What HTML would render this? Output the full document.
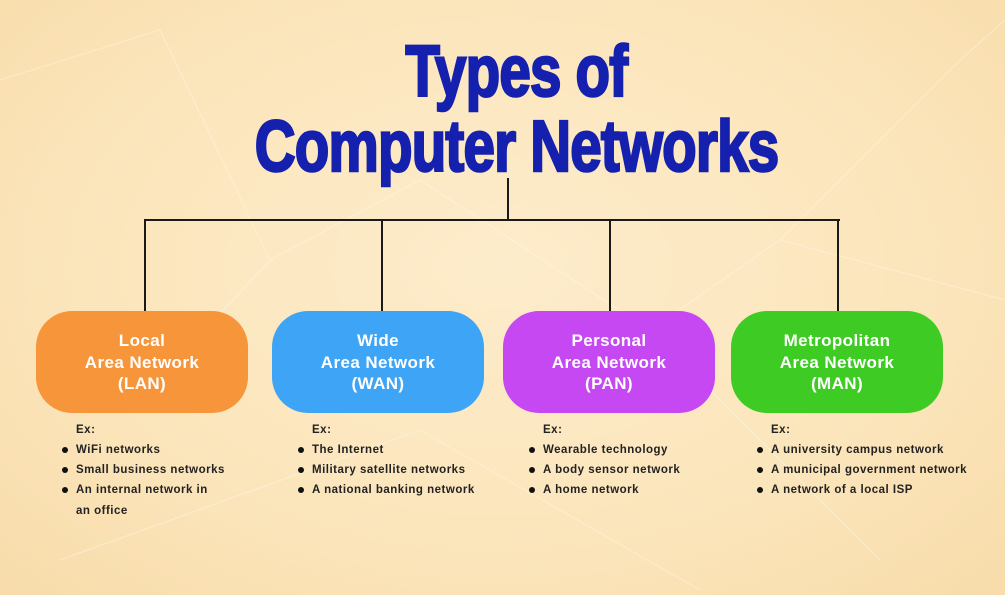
<!DOCTYPE html>
<html><head><style>
body{margin:0}
#c{position:relative;width:1005px;height:595px;overflow:hidden;background:radial-gradient(ellipse at 50% 45%,#fdeccb 0%,#fbe5bb 60%,#f8dcaa 100%);font-family:"Liberation Sans",sans-serif}
.t{position:absolute;left:14px;width:1005px;text-align:center;color:#1520ae;font-weight:bold;font-size:72px;line-height:72px;letter-spacing:-1px;-webkit-text-stroke:2.5px #1520ae}
.t span{display:inline-block;transform:scaleX(0.785)}
.ln{position:absolute;background:#1a1a1a}
.box{position:absolute;top:311px;width:212px;height:102px;border-radius:36px;color:#fff;font-weight:bold;font-size:17px;letter-spacing:0.4px;line-height:21.5px;text-align:center;box-sizing:border-box;padding-top:19px}
.ex{position:absolute;font-size:11.5px;font-weight:bold;color:#222;letter-spacing:0.5px}
.ex ul{margin:0;padding:0;list-style:none}
.ex li{position:relative;padding-left:14px;line-height:20.2px;white-space:nowrap}
.ex li:before{content:"";position:absolute;left:0;top:7px;width:6px;height:6px;border-radius:50%;background:#111}
.ex .h{padding-left:14px;line-height:20px}
</style></head><body><div id="c">
<svg style="position:absolute;left:0;top:0" width="1005" height="595"><g stroke="#fff" stroke-opacity="0.35" stroke-width="1" fill="none">
<path d="M0 80 L160 30 L270 260 L140 400 M270 260 L420 180 L650 330 L780 240 L1005 300 M780 240 L960 60 M650 330 L880 560 M60 560 L420 430 L700 590 M960 60 L1005 20"/></g></svg>
<div class="t" style="top:36px"><span>Types of</span></div>
<div class="t" style="top:111px"><span>Computer Networks</span></div>
<div class="ln" style="left:507px;top:178px;width:2px;height:43px"></div>
<div class="ln" style="left:144px;top:219px;width:696px;height:2px"></div>
<div class="ln" style="left:144px;top:219px;width:2px;height:93px"></div>
<div class="ln" style="left:381px;top:219px;width:2px;height:93px"></div>
<div class="ln" style="left:609px;top:219px;width:2px;height:93px"></div>
<div class="ln" style="left:837px;top:219px;width:2px;height:93px"></div>
<div class="box" style="left:36px;background:#f7953b">Local<br>Area Network<br>(LAN)</div>
<div class="box" style="left:272px;background:#3ea4f6">Wide<br>Area Network<br>(WAN)</div>
<div class="box" style="left:503px;background:#c648f2">Personal<br>Area Network<br>(PAN)</div>
<div class="box" style="left:731px;background:#3ecb24">Metropolitan<br>Area Network<br>(MAN)</div>
<div class="ex" style="left:62px;top:420px"><div class="h">Ex:</div><ul><li>WiFi networks</li><li>Small business networks</li><li>An internal network in<br>an office</li></ul></div>
<div class="ex" style="left:298px;top:420px"><div class="h">Ex:</div><ul><li>The Internet</li><li>Military satellite networks</li><li>A national banking network</li></ul></div>
<div class="ex" style="left:529px;top:420px"><div class="h">Ex:</div><ul><li>Wearable technology</li><li>A body sensor network</li><li>A home network</li></ul></div>
<div class="ex" style="left:757px;top:420px"><div class="h">Ex:</div><ul><li>A university campus network</li><li>A municipal government network</li><li>A network of a local ISP</li></ul></div>
</div></body></html>
